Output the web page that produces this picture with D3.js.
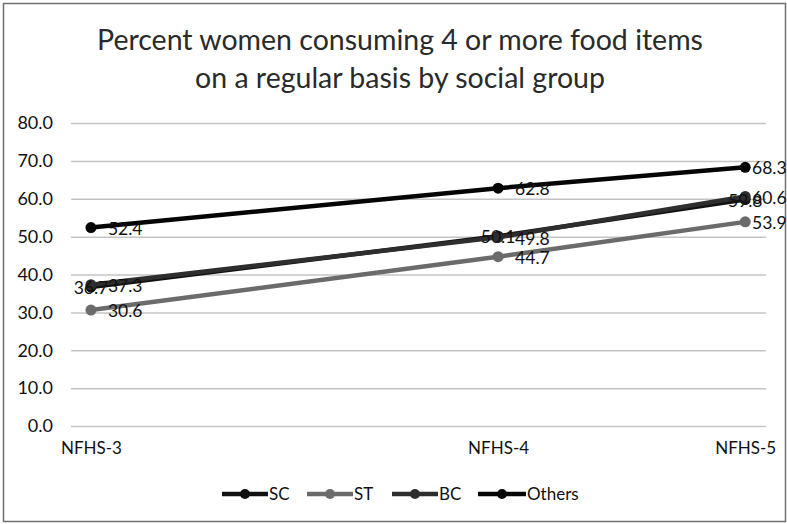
<!DOCTYPE html>
<html>
<head>
<meta charset="utf-8">
<script src="https://cdn.jsdelivr.net/npm/d3@7"></script>
<style>
  html, body { margin: 0; padding: 0; background: #fff; }
  svg { display: block; font-family: Lato, "Open Sans", sans-serif; }
</style>
</head>
<body>
<svg id="chart" width="787" height="524"></svg>
<script>
// Survey rounds and their relative spacing on the time axis
const surveys = ["NFHS-3", "NFHS-4", "NFHS-5"];
const surveyTime = [0, 1, 1.607];

// Percent of women consuming 4+ food items, by social group
const groups = ["SC", "ST", "BC", "Others"];
const scValues = [36.7, 50.1, 59.8];
const stValues = [30.6, 44.7, 53.9];
const bcValues = [37.3, 49.8, 60.6];
const othersValues = [52.4, 62.8, 68.3];

const yTicks = [0, 10, 20, 30, 40, 50, 60, 70, 80];

const series = [
  { name: groups[0], values: scValues, color: "#111111", labelPos: "center" },
  { name: groups[1], values: stValues, color: "#6b6b6b", labelPos: "right" },
  { name: groups[2], values: bcValues, color: "#2e2e2e", labelPos: "right" },
  { name: groups[3], values: othersValues, color: "#050505", labelPos: "right" }
];

const W = 787, H = 524;
const svg = d3.select("#chart");

// outer frame
svg.append("rect")
  .attr("x", 3.5).attr("y", 3.5)
  .attr("width", W - 5).attr("height", H - 6)
  .attr("fill", "#fff").attr("stroke", "#6f6f6f").attr("stroke-width", 1.5);

// title
const title = svg.append("text")
  .attr("text-anchor", "middle")
  .attr("fill", "#2a2a2a")
  .attr("font-size", 28.5);
title.append("tspan").attr("x", 400).attr("y", 50)
  .text("Percent women consuming 4 or more food items");
title.append("tspan").attr("x", 400).attr("y", 88)
  .text("on a regular basis by social group");

const plot = { left: 71, right: 766, top: 123, bottom: 426 };

const x = d3.scaleLinear()
  .domain([-0.049, 1.658])
  .range([plot.left, plot.right]);
const y = d3.scaleLinear()
  .domain([0, 80])
  .range([plot.bottom, plot.top]);

// horizontal gridlines + y tick labels
const yAxis = d3.axisLeft(y)
  .tickValues(yTicks)
  .tickFormat(d3.format(".1f"))
  .tickSize(-(plot.right - plot.left))
  .tickPadding(18);
const gy = svg.append("g")
  .attr("transform", `translate(${plot.left},0)`)
  .call(yAxis);
gy.select(".domain").remove();
gy.selectAll(".tick line").attr("stroke", "#c4c4c4").attr("stroke-width", 1.5);
gy.selectAll(".tick text")
  .attr("font-size", 18).attr("fill", "#111")
  .attr("font-family", "Lato, sans-serif");

// category labels under the baseline
const xAxis = d3.axisBottom(x)
  .tickValues(surveyTime)
  .tickFormat((d, i) => surveys[i])
  .tickSize(0)
  .tickPadding(16);
const gx = svg.append("g")
  .attr("transform", `translate(0,${plot.bottom})`)
  .call(xAxis);
gx.select(".domain").remove();
gx.selectAll(".tick text")
  .attr("font-size", 17).attr("fill", "#111")
  .attr("font-family", "Lato, sans-serif");

const line = d3.line()
  .x((d, i) => x(surveyTime[i]))
  .y(d => y(d));

// series lines and markers
series.forEach(s => {
  const g = svg.append("g");
  g.append("path")
    .datum(s.values)
    .attr("d", line)
    .attr("fill", "none")
    .attr("stroke", s.color)
    .attr("stroke-width", 4.5)
    .attr("stroke-linejoin", "round");
  g.selectAll("circle")
    .data(s.values)
    .join("circle")
    .attr("cx", (d, i) => x(surveyTime[i]))
    .attr("cy", d => y(d))
    .attr("r", 5.5)
    .attr("fill", s.color);
});

// data labels
const fmt = d3.format(".1f");
series.forEach(s => {
  svg.append("g").selectAll("text")
    .data(s.values)
    .join("text")
    .attr("x", (d, i) => {
      const px = x(surveyTime[i]);
      if (s.labelPos === "center") return px;
      return Math.min(px + 17, W - 35);
    })
    .attr("y", d => y(d) + 1)
    .attr("dy", "0.35em")
    .attr("text-anchor", s.labelPos === "center" ? "middle" : "start")
    .attr("font-size", 17.5)
    .attr("fill", "#111")
    .text(d => fmt(d));
});

// legend
const legendItems = [
  { xs: 222, tx: 268 },
  { xs: 307, tx: 353 },
  { xs: 392, tx: 438 },
  { xs: 478, tx: 526 }
];
const lg = svg.append("g");
series.forEach((s, i) => {
  const it = legendItems[i];
  const ly = 494;
  lg.append("line")
    .attr("x1", it.xs).attr("x2", it.tx)
    .attr("y1", ly).attr("y2", ly)
    .attr("stroke", s.color).attr("stroke-width", 4.5);
  lg.append("circle")
    .attr("cx", (it.xs + it.tx) / 2).attr("cy", ly)
    .attr("r", 5).attr("fill", s.color);
  lg.append("text")
    .attr("x", it.tx + 1).attr("y", ly)
    .attr("dy", "0.35em")
    .attr("font-size", 17).attr("fill", "#111")
    .text(s.name);
});
</script>
</body>
</html>
